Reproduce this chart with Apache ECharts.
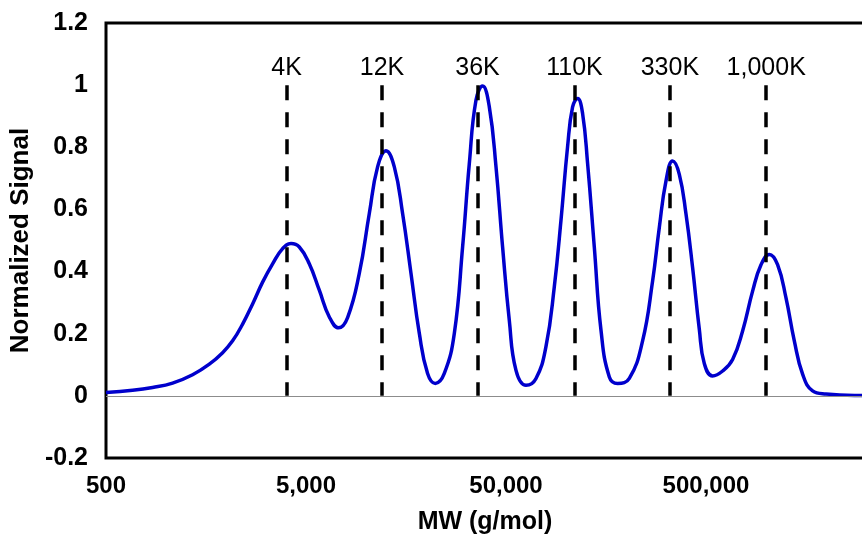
<!DOCTYPE html>
<html>
<head>
<meta charset="utf-8">
<script src="https://cdn.jsdelivr.net/npm/echarts@6/dist/echarts.min.js"></script>
<style>html,body{margin:0;padding:0;background:#fff;}#c{width:862px;height:539px;}</style>
</head>
<body>
<div id="c"></div>
<script>
// Molecular weight (g/mol) sample positions
const mw = [500, 679, 855, 1076, 1355, 1643, 1914, 2148, 2410, 2704, 3034, 3404, 3819, 4207, 4629, 5193, 5828, 6539, 7277, 8072,
  9235, 10363, 11402, 12559, 13820, 15205, 16749, 18433, 20273, 22155, 24575, 27574, 30337, 32770, 35397, 38190, 41258, 44566, 48080,
  51937, 56100, 62946, 70627, 79245, 87200, 94189, 101600, 107640, 114000, 120750, 127930, 138200, 149260, 164300, 180700, 206800,
  240950, 270400, 292100, 315480, 340400, 367700, 397170, 428500, 462800, 490300, 539500, 605400, 679200, 762100, 855100, 941900,
  1036600, 1140000, 1255900, 1382000, 1520500, 1706000, 1990500, 2988500, 5000000];
// Normalized signal at each sample
const signal = [0.011, 0.018, 0.027, 0.041, 0.068, 0.102, 0.139, 0.177, 0.231, 0.296, 0.366, 0.425, 0.474, 0.490, 0.479, 0.425, 0.340, 0.254, 0.219, 0.252,
  0.394, 0.587, 0.737, 0.789, 0.737, 0.587, 0.394, 0.201, 0.072, 0.040, 0.072, 0.201, 0.479, 0.747, 0.952, 0.997, 0.930, 0.737, 0.479,
  0.243, 0.082, 0.034, 0.056, 0.159, 0.351, 0.566, 0.802, 0.930, 0.957, 0.909, 0.748, 0.479, 0.211, 0.061, 0.040, 0.056,
  0.177, 0.370, 0.542, 0.692, 0.756, 0.713, 0.585, 0.413, 0.215, 0.104, 0.064, 0.080, 0.117, 0.209, 0.337, 0.422,
  0.455, 0.422, 0.315, 0.177, 0.070, 0.016, 0.006, 0.001, 0.0];
// Reference standards (dashed markers)
const markerMW = [4000, 12000, 36000, 110000, 330000, 1000000];
const markerLabels = ['4K', '12K', '36K', '110K', '330K', '1,000K'];
const markerTop = 1.0;
// Axis ticks
const xTickValues = [500, 5000, 50000, 500000];
const yMin = -0.2, yMax = 1.2, yStep = 0.2;

const FONT = "'Liberation Sans', Arial, sans-serif";
const chart = echarts.init(document.getElementById('c'), null, {renderer: 'canvas'});

// dashes run from the top of each marker down to the baseline
const markerLines = markerMW.map((m, i) => [
  {name: markerLabels[i], coord: [m, markerTop]},
  {coord: [m, 0]}
]);

chart.setOption({
  animation: false,
  backgroundColor: '#fff',
  grid: {left: 106, top: 23, width: 800, bottom: 81, outerBoundsMode: 'none', containLabel: false,
    show: true, borderColor: '#000', borderWidth: 3, backgroundColor: 'transparent'},
  xAxis: {
    type: 'log', logBase: 10, min: 500, max: 5000000,
    name: 'MW (g/mol)', nameLocation: 'middle', nameGap: 52,
    nameTextStyle: {fontFamily: FONT, fontSize: 25, fontWeight: 'bold', color: '#000', padding: [0, 42, 0, 0]},
    axisLine: {show: false}, axisTick: {show: false}, splitLine: {show: false}, minorTick: {show: false},
    axisLabel: {
      customValues: xTickValues,
      formatter: v => Number(v).toLocaleString('en-US'),
      fontFamily: FONT, fontSize: 24, fontWeight: 'bold', color: '#000', margin: 16
    }
  },
  yAxis: {
    type: 'value', min: yMin, max: yMax, interval: yStep,
    name: 'Normalized Signal', nameLocation: 'middle', nameGap: 68, nameRotate: 90,
    nameTextStyle: {fontFamily: FONT, fontSize: 26, fontWeight: 'bold', color: '#000'},
    axisLine: {show: false}, axisTick: {show: false}, splitLine: {show: false},
    axisLabel: {fontFamily: FONT, fontSize: 25, fontWeight: 'bold', color: '#000', margin: 18}
  },
  series: [{
    type: 'line',
    data: mw.map((m, i) => [m, signal[i]]),
    showSymbol: false, symbol: 'none',
    smooth: 0.45,
    lineStyle: {color: '#0000CC', width: 3.5},
    z: 3,
    markLine: {
      silent: true, symbol: ['none', 'none'], animation: false,
      data: [
        {yAxis: 0, lineStyle: {color: '#8c8c8c', width: 1.2, type: 'solid'}, label: {show: false}}
      ].concat(markerLines.map(p => [
        Object.assign({}, p[0], {lineStyle: {color: '#000', width: 3.5, type: [15, 12]},
          label: {show: true, position: 'start', formatter: p[0].name, fontFamily: FONT, fontSize: 25, color: '#000', distance: 5}}),
        p[1]
      ]))
    }
  }]
});
</script>
</body>
</html>
